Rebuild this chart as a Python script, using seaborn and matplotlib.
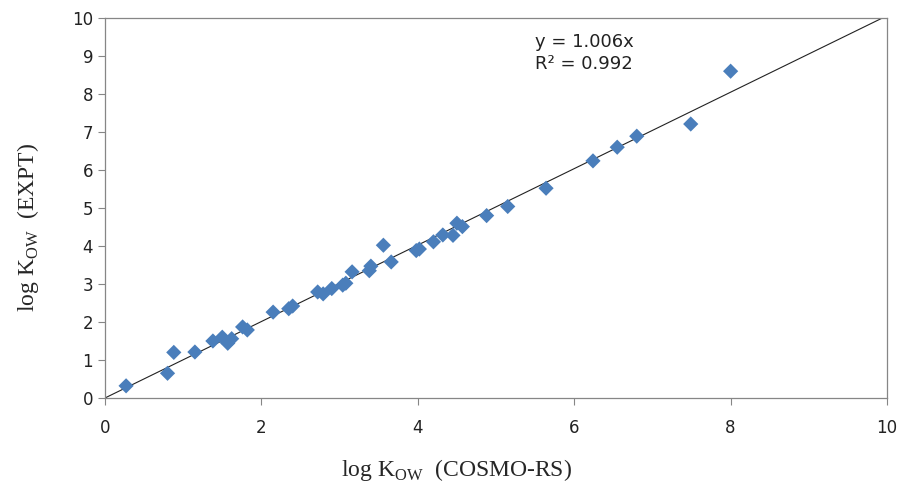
import numpy as np
import pandas as pd
import matplotlib
matplotlib.use('Agg')
import matplotlib.pyplot as plt
import seaborn as sns

# log Kow values
cosmo_rs = [0.27, 0.80, 0.88, 1.15, 1.38, 1.50, 1.57, 1.62, 1.76, 1.82,
            2.15, 2.35, 2.40, 2.72, 2.79, 2.90, 3.04, 3.08, 3.16, 3.38,
            3.40, 3.56, 3.66, 3.98, 4.02, 4.20, 4.32, 4.45, 4.50, 4.57,
            4.88, 5.15, 5.64, 6.24, 6.55, 6.80, 7.49, 8.00]
expt     = [0.32, 0.65, 1.20, 1.21, 1.50, 1.60, 1.44, 1.56, 1.87, 1.79,
            2.26, 2.35, 2.42, 2.79, 2.74, 2.88, 2.97, 3.02, 3.32, 3.35,
            3.47, 4.02, 3.58, 3.88, 3.92, 4.11, 4.29, 4.28, 4.60, 4.51,
            4.80, 5.04, 5.52, 6.24, 6.60, 6.89, 7.21, 8.60]
slope = 1.006
r2 = 0.992
ticks_x = [0, 2, 4, 6, 8, 10]
ticks_y = list(range(0, 11))

MARKER_COLOR = '#4a7ebb'
SPINE_COLOR  = '#868686'

df = pd.DataFrame({'cosmo': cosmo_rs, 'expt': expt})

sns.set_style('white')
plt.rcParams['font.family'] = ['DejaVu Sans']

fig = plt.figure(figsize=(9.01, 4.84), dpi=100)
ax = fig.add_axes([0.1165, 0.1777, 0.868, 0.7851])

# fitted line through origin
xs = np.array([0, 10])
ax.plot(xs, slope * xs, color='#222222', lw=0.8, zorder=1)

sns.scatterplot(data=df, x='cosmo', y='expt', marker='D', s=60,
                color=MARKER_COLOR, edgecolor='none', ax=ax, zorder=2)

ax.set_xlim(0, 10)
ax.set_ylim(0, 10)
ax.set_xticks(ticks_x)
ax.set_yticks(ticks_y)
ax.tick_params(axis='both', direction='out', length=5, width=0.8,
               color=SPINE_COLOR, labelsize=12, labelcolor='#222222',
               bottom=True, left=True)
ax.tick_params(axis='x', pad=10)
for s in ax.spines.values():
    s.set_color(SPINE_COLOR)
    s.set_linewidth(0.9)

ax.text(5.5, 9.6, f'y = {slope:.3f}x\nR² = {r2:.3f}', fontsize=13,
        color='#222222', va='top', ha='left', linespacing=1.3)

serif = {'family': 'Liberation Serif', 'size': 17}
ax.set_xlabel(r'log K$_{\mathregular{OW}}$  (COSMO-RS)', fontdict=serif)
ax.set_ylabel(r'log K$_{\mathregular{OW}}$  (EXPT)', fontdict=serif)
ax.xaxis.set_label_coords(0.45, -0.155)
ax.yaxis.set_label_coords(-0.082, 0.45)

fig.savefig('out.png', dpi=100)
